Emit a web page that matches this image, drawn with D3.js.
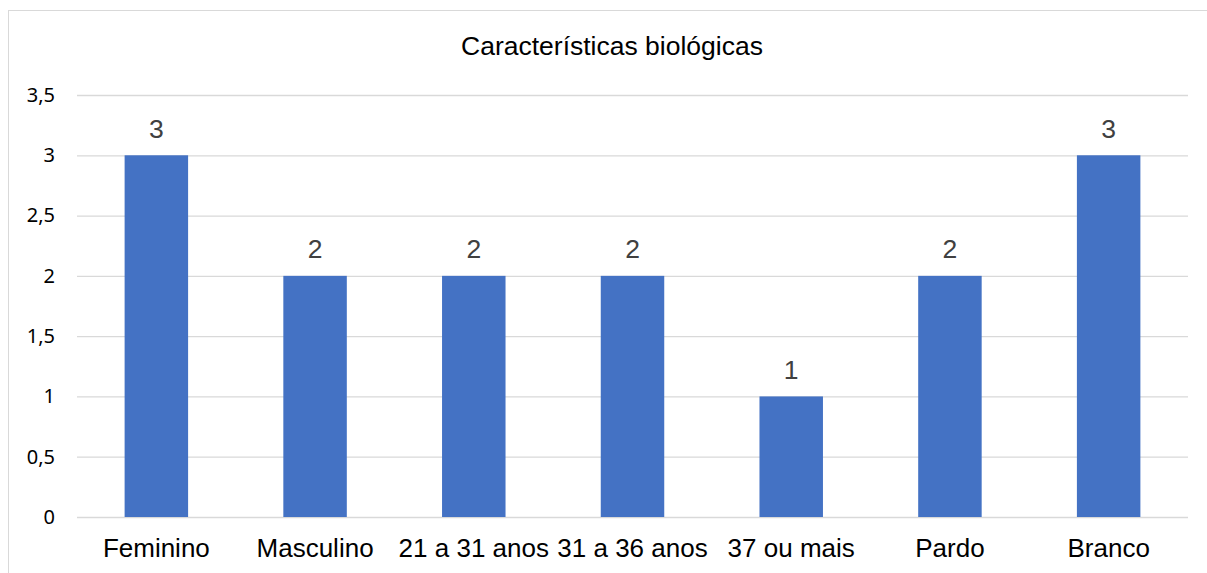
<!DOCTYPE html>
<html><head><meta charset="utf-8">
<script src="https://cdn.jsdelivr.net/npm/d3@7"></script>
<style>body{margin:0;background:#fff}svg{display:block}</style>
</head><body>
<svg id="c" width="1207" height="573"></svg>
<script>
const categories = ["Feminino","Masculino","21 a 31 anos","31 a 36 anos","37 ou mais","Pardo","Branco"];
const values = [3,2,2,2,1,2,3];
const yTicks = [0,0.5,1,1.5,2,2.5,3,3.5];
const title = "Características biológicas";

const svg = d3.select("#c");
svg.append("rect").attr("x",8.5).attr("y",10.5).attr("width",1250).attr("height",600)
  .attr("fill","none").attr("stroke","#d9d9d9").attr("stroke-width",1);

const x = d3.scaleBand().domain(categories).range([77,1188]).paddingInner(0.6).paddingOuter(0.3);
const y = d3.scaleLinear().domain([0,3.5]).range([517,95]);

const fmt = d => String(d).replace(".",",");
const arial = "'Liberation Sans', Arial, sans-serif";

const gy = svg.append("g").attr("transform","translate(77,0)")
  .call(d3.axisLeft(y).tickValues(yTicks).tickSize(-1111).tickFormat(fmt).tickPadding(22));
gy.select(".domain").remove();
gy.selectAll(".tick line").attr("stroke","#d9d9d9").attr("stroke-width",1.3);
gy.selectAll(".tick text").attr("font-family","'Noto Sans', sans-serif").attr("font-size",20).attr("fill","#000");

svg.selectAll("rect.bar").data(values).join("rect").attr("class","bar")
  .attr("x",(d,i)=>x(categories[i])).attr("width",x.bandwidth())
  .attr("y",d=>y(d)).attr("height",d=>y(0)-y(d)).attr("fill","#4472C4");

svg.selectAll("text.val").data(values).join("text").attr("class","val")
  .attr("x",(d,i)=>x(categories[i])+x.bandwidth()/2).attr("y",d=>y(d)-17.5)
  .attr("text-anchor","middle").attr("font-family",arial)
  .attr("font-size",26.5).attr("fill","#404040").text(d=>d);

const gx = svg.append("g").attr("transform","translate(0,517)")
  .call(d3.axisBottom(x).tickSize(0).tickPadding(0));
gx.select(".domain").remove();
gx.selectAll(".tick text").attr("dy",null).attr("y",40).attr("font-family",arial).attr("font-size",26).attr("fill","#000");

svg.append("text").attr("x",612).attr("y",55).attr("text-anchor","middle")
  .attr("font-family",arial).attr("font-size",26.5).attr("fill","#000").text(title);
</script>
</body></html>
